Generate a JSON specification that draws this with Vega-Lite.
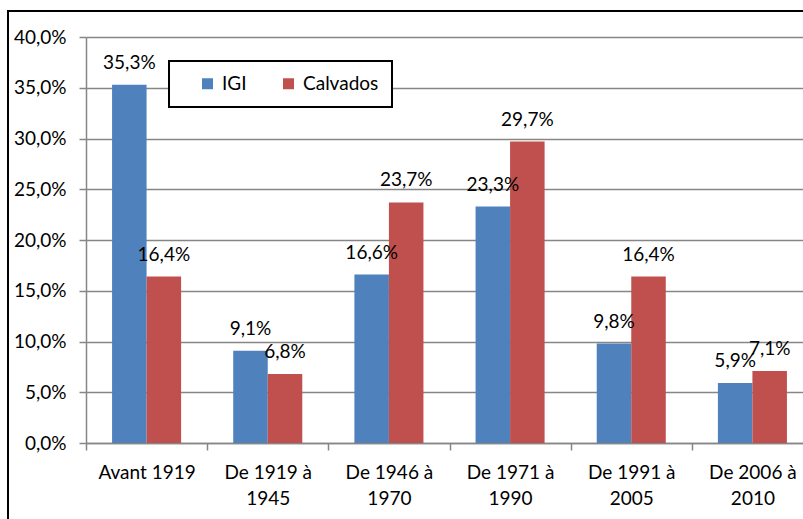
{
  "$schema": "https://vega.github.io/schema/vega-lite/v6.json",
  "width": 810,
  "height": 520,
  "autosize": {"type": "none"},
  "padding": {"left": 8, "top": 11, "right": 0, "bottom": 0},
  "background": "white",
  "config": {
    "locale": {"number": {"decimal": ",", "thousands": " ", "grouping": [3], "currency": ["", " €"]}},
    "font": "Lato",
    "view": {"stroke": "#000000", "strokeWidth": 2},
    "legend": {"strokeWidth": 2},
    "axis": {
      "labelFont": "Lato",
      "labelFontSize": 19,
      "labelColor": "#000000",
      "domainColor": "#868686",
      "domainWidth": 1.5,
      "tickColor": "#868686",
      "tickWidth": 1.5,
      "gridColor": "#868686",
      "gridWidth": 1.5
    }
  },
  "data": {
    "values": [
      {"periode": "Avant 1919", "serie": "IGI", "valeur": 0.353},
      {"periode": "Avant 1919", "serie": "Calvados", "valeur": 0.164},
      {"periode": "De 1919 à 1945", "serie": "IGI", "valeur": 0.091},
      {"periode": "De 1919 à 1945", "serie": "Calvados", "valeur": 0.068},
      {"periode": "De 1946 à 1970", "serie": "IGI", "valeur": 0.166},
      {"periode": "De 1946 à 1970", "serie": "Calvados", "valeur": 0.237},
      {"periode": "De 1971 à 1990", "serie": "IGI", "valeur": 0.233},
      {"periode": "De 1971 à 1990", "serie": "Calvados", "valeur": 0.297},
      {"periode": "De 1991 à 2005", "serie": "IGI", "valeur": 0.098},
      {"periode": "De 1991 à 2005", "serie": "Calvados", "valeur": 0.164},
      {"periode": "De 2006 à 2010", "serie": "IGI", "valeur": 0.059},
      {"periode": "De 2006 à 2010", "serie": "Calvados", "valeur": 0.071}
    ]
  },
  "encoding": {
    "x": {
      "field": "periode",
      "type": "nominal",
      "sort": null,
      "scale": {"range": [78, 805], "paddingInner": 0, "paddingOuter": 0},
      "axis": {
        "title": null,
        "orient": "bottom",
        "offset": -88,
        "tickBand": "extent",
        "tickSize": 7,
        "labelAngle": 0,
        "labelPadding": 13,
        "labelLineHeight": 26,
        "labelBaseline": "top",
        "labelExpr": "!isString(datum.value) ? '' : (datum.value == 'Avant 1919' ? datum.value : [slice(datum.value, 0, 9), slice(datum.value, 10)])"
      }
    },
    "xOffset": {
      "field": "serie",
      "type": "nominal",
      "sort": ["IGI", "Calvados"],
      "scale": {"paddingInner": 0, "paddingOuter": 0.755}
    },
    "y": {
      "field": "valeur",
      "type": "quantitative",
      "stack": null,
      "scale": {"domain": [0, 0.4], "range": [432, 26], "nice": false},
      "axis": {
        "title": null,
        "orient": "left",
        "offset": -78,
        "values": [0, 0.05, 0.1, 0.15, 0.2, 0.25, 0.3, 0.35, 0.4],
        "format": ".1%",
        "tickSize": 7,
        "labelPadding": 13,
        "grid": true
      }
    }
  },
  "layer": [
    {
      "mark": {"type": "bar"},
      "encoding": {
        "color": {
          "field": "serie",
          "type": "nominal",
          "scale": {"domain": ["IGI", "Calvados"], "range": ["#4F81BD", "#C0504D"]},
          "legend": {
            "title": "\u00a0",
            "titleOrient": "left",
            "titlePadding": 16,
            "titleFontSize": 19,
            "orient": "none",
            "direction": "horizontal",
            "legendX": 161,
            "legendY": 50,
            "padding": 13,
            "symbolType": "square",
            "symbolSize": 121,
            "symbolStrokeWidth": 0,
            "labelFont": "Lato",
            "labelFontSize": 19,
            "labelColor": "#000000",
            "labelOffset": 5,
            "columnPadding": 32,
            "strokeColor": "#000000",
            "fillColor": "#ffffff",
            "labelExpr": "datum.label == 'Calvados' ? 'Calvados\u00a0\u00a0\u00a0' : datum.label"
          }
        }
      }
    },
    {
      "mark": {"type": "text", "font": "Lato", "fontSize": 19, "color": "#000000", "align": "center", "baseline": "alphabetic", "dy": -16},
      "encoding": {
        "text": {"field": "valeur", "type": "quantitative", "format": ".1%"}
      }
    }
  ]
}
